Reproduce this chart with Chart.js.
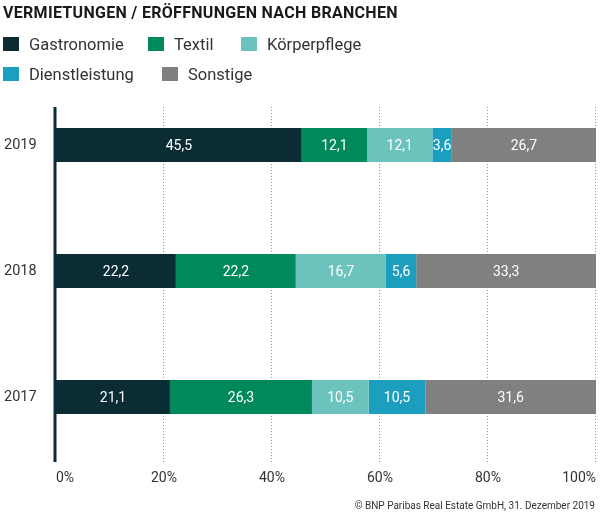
<!DOCTYPE html>
<html lang="de">
<head>
  <meta charset="UTF-8" />
  <title>Vermietungen / Eröffnungen nach Branchen</title>
  <script src="https://cdn.jsdelivr.net/npm/chart.js@4.4.1/dist/chart.umd.min.js"></script>
  <style>
    body {
      margin: 0;
      background: #fff;
      font-family: Roboto, "Noto Sans", sans-serif;
      color: #333;
    }

    .wrap {
      position: relative;
      width: 600px;
      height: 518px;
    }

    canvas {
      position: absolute;
      left: 0;
      top: 0;
    }

    h2 {
      position: absolute;
      left: 3px;
      top: 3px;
      margin: 0;
      font-size: 16px;
      font-weight: 700;
      color: #1a1a1a;
      letter-spacing: 0.3px;
    }

    .legend {
      position: absolute;
      left: 3px;
      font-size: 16.5px;
      color: #333;
    }

    .legend span {
      position: absolute;
      white-space: nowrap;
    }

    .legend i {
      display: inline-block;
      width: 16px;
      height: 14px;
      vertical-align: -1px;
      margin-right: 10px;
    }

    .footer {
      position: absolute;
      right: 5px;
      top: 500px;
      font-size: 10px;
      color: #333;
    }
  </style>
</head>
<body>
  <div class="wrap">
    <canvas id="chart" width="600" height="518"></canvas>
    <h2>VERMIETUNGEN / ERÖFFNUNGEN NACH BRANCHEN</h2>
    <div class="legend" id="legend"></div>
    <div class="footer">© BNP Paribas Real Estate GmbH, 31. Dezember 2019</div>
  </div>
  <script>
    const years = ["2019", "2018", "2017"];
    const gastronomie = [45.5, 22.2, 21.1];
    const textil = [12.1, 22.2, 26.3];
    const koerperpflege = [12.1, 16.7, 10.5];
    const dienstleistung = [3.6, 5.6, 10.5];
    const sonstige = [26.7, 33.3, 31.6];
    const xTicks = [0, 20, 40, 60, 80, 100];

    const series = [
      { label: "Gastronomie", data: gastronomie, color: "#0b2c35" },
      { label: "Textil", data: textil, color: "#008a5c" },
      { label: "Körperpflege", data: koerperpflege, color: "#6cc3bd" },
      { label: "Dienstleistung", data: dienstleistung, color: "#1c9fbf" },
      { label: "Sonstige", data: sonstige, color: "#808080" }
    ];

    // legende als html, zwei zeilen
    const legendPos = [[0, 35], [145, 35], [238, 35], [0, 65], [159, 65]];
    const legend = document.getElementById("legend");
    series.forEach((s, i) => {
      const el = document.createElement("span");
      el.style.left = legendPos[i][0] + "px";
      el.style.top = legendPos[i][1] + "px";
      el.innerHTML = '<i style="background:' + s.color + '"></i>' + s.label;
      legend.appendChild(el);
    });

    const gridTop = 107;

    const decor = {
      id: "decor",
      beforeDatasetsDraw(chart) {
        const ctx = chart.ctx;
        const x = chart.scales.x;
        const bottom = chart.chartArea.bottom + 2;
        ctx.save();
        ctx.strokeStyle = "#9a9a9a";
        ctx.lineWidth = 1;
        ctx.setLineDash([1, 2]);
        xTicks.slice(1).forEach(t => {
          const px = Math.round(x.getPixelForValue(t)) - 0.5;
          ctx.beginPath();
          ctx.moveTo(px, gridTop);
          ctx.lineTo(px, bottom);
          ctx.stroke();
        });
        ctx.setLineDash([]);
        ctx.strokeStyle = "#0b2c35";
        ctx.lineWidth = 3;
        const x0 = x.getPixelForValue(0) - 1;
        ctx.beginPath();
        ctx.moveTo(x0, gridTop);
        ctx.lineTo(x0, bottom);
        ctx.stroke();
        ctx.restore();
      },
      afterDatasetsDraw(chart) {
        const ctx = chart.ctx;
        ctx.save();
        ctx.fillStyle = "#fff";
        ctx.font = "14px Roboto";
        ctx.textAlign = "center";
        ctx.textBaseline = "middle";
        chart.data.datasets.forEach((ds, i) => {
          chart.getDatasetMeta(i).data.forEach((bar, j) => {
            const p = bar.getProps(["x", "y", "base"], true);
            const txt = ds.data[j].toFixed(1).replace(".", ",");
            ctx.fillText(txt, (p.x + p.base) / 2, p.y + 1);
          });
        });
        ctx.restore();
      }
    };

    new Chart(document.getElementById("chart"), {
      type: "bar",
      data: {
        labels: years,
        datasets: series.map(s => ({
          label: s.label,
          data: s.data,
          backgroundColor: s.color,
          borderWidth: 0,
          categoryPercentage: 1,
          barPercentage: 0.27
        }))
      },
      options: {
        indexAxis: "y",
        responsive: false,
        animation: false,
        layout: {
          padding: { top: 82, left: 4, right: 0, bottom: 0 }
        },
        plugins: {
          legend: { display: false },
          tooltip: { enabled: false }
        },
        scales: {
          x: {
            stacked: true,
            min: 0,
            max: 100,
            afterBuildTicks: s => { s.ticks = xTicks.map(v => ({ value: v })); },
            afterFit: s => { s.height = 58; s.paddingRight = 4; },
            grid: { display: false, drawTicks: false },
            border: { display: false },
            ticks: {
              align: "inner",
              padding: 10,
              color: "#333",
              font: { family: "Roboto", size: 14 },
              callback: v => v + "%"
            }
          },
          y: {
            stacked: true,
            afterFit: s => { s.width = 52; },
            grid: { display: false, drawTicks: false },
            border: { display: false },
            ticks: {
              crossAlign: "far",
              color: "#333",
              font: { family: "Roboto", size: 14.5 }
            }
          }
        }
      },
      plugins: [decor]
    });
  </script>
</body>
</html>
